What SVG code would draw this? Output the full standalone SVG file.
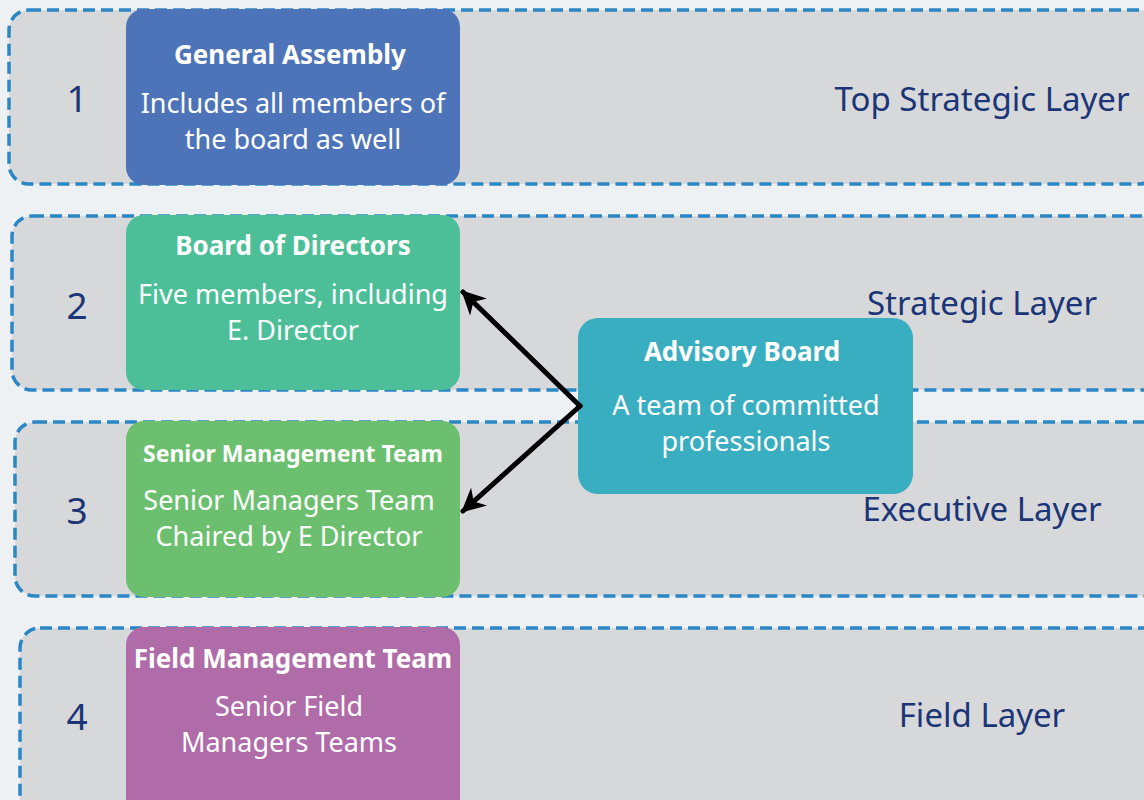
<svg xmlns="http://www.w3.org/2000/svg" width="1144" height="800" viewBox="0 0 1144 800">
<defs>
<marker id="ah" viewBox="0 0 10 10" refX="9" refY="5" markerWidth="24" markerHeight="24" orient="auto-start-reverse" markerUnits="userSpaceOnUse">
<path d="M0,0 L10,5 L0,10 L3,5 Z" fill="#000"/>
</marker>
<style>
.layer{fill:#D7D8DA;stroke:#2A86C5;stroke-width:3.5;stroke-dasharray:12 6}
.num{font-family:"Noto Sans","Open Sans",sans-serif;font-size:37px;fill:#1B3577;text-anchor:middle}
.lbl{font-family:"Noto Sans","Open Sans",sans-serif;font-size:33px;fill:#1B3577;text-anchor:middle}
.t{font-family:"Noto Sans","Open Sans",sans-serif;font-weight:bold;font-size:26px;fill:#fff;text-anchor:middle}
.t2{font-family:"Noto Sans","Open Sans",sans-serif;font-weight:bold;font-size:23px;fill:#fff;text-anchor:middle}
.b{font-family:"Noto Sans","Open Sans",sans-serif;font-size:27px;fill:#fff;text-anchor:middle}
.conn{stroke:#000;stroke-width:5;fill:none;stroke-linecap:round}
</style>
</defs>
<rect width="1144" height="800" fill="#EDF1F3"/>
<g id="layers">
<rect class="layer" x="9" y="10" width="1150" height="174" rx="20"/>
<rect class="layer" x="12" y="216" width="1150" height="174" rx="20"/>
<rect class="layer" x="15" y="422" width="1150" height="174" rx="20"/>
<rect class="layer" x="20" y="628" width="1150" height="190" rx="20"/>
<text class="num" x="77" y="112">1</text>
<text class="num" x="77" y="319">2</text>
<text class="num" x="77" y="524">3</text>
<text class="num" x="77" y="730">4</text>
<text class="lbl" x="982" y="111">Top Strategic Layer</text>
<text class="lbl" x="982" y="315">Strategic Layer</text>
<text class="lbl" x="982" y="521">Executive Layer</text>
<text class="lbl" x="982" y="727">Field Layer</text>
</g>
<g id="general-assembly">
<rect x="126" y="9" width="334" height="176" rx="18" fill="#4D74B8"/>
<text class="t" x="290" y="64">General Assembly</text>
<text class="b" x="293" y="113">Includes all members of</text>
<text class="b" x="293" y="149">the board as well</text>
</g>
<g id="board-of-directors">
<rect x="126" y="215" width="334" height="175" rx="18" fill="#4DBF98"/>
<text class="t" x="293" y="255">Board of Directors</text>
<text class="b" x="293" y="304">Five members, including</text>
<text class="b" x="293" y="340">E. Director</text>
</g>
<g id="senior-management-team">
<rect x="126" y="421" width="334" height="176" rx="18" fill="#6BBF6E"/>
<text class="t2" x="293" y="462">Senior Management Team</text>
<text class="b" x="289" y="510">Senior Managers Team</text>
<text class="b" x="289" y="546">Chaired by E Director</text>
</g>
<g id="field-management-team">
<rect x="126" y="627" width="334" height="190" rx="18" fill="#B06BA9"/>
<text class="t" x="293" y="668">Field Management Team</text>
<text class="b" x="289" y="716">Senior Field</text>
<text class="b" x="289" y="752">Managers Teams</text>
</g>
<g id="advisory-board">
<rect x="578" y="318" width="335" height="176" rx="20" fill="#3AAEC1"/>
<text class="t" x="742" y="361">Advisory Board</text>
<text class="b" x="746" y="415">A team of committed</text>
<text class="b" x="746" y="451">professionals</text>
</g>
<g id="connectors">
<path class="conn" d="M580,406 L463,292" marker-end="url(#ah)"/>
<path class="conn" d="M580,406 L463,511" marker-end="url(#ah)"/>
</g>
</svg>
